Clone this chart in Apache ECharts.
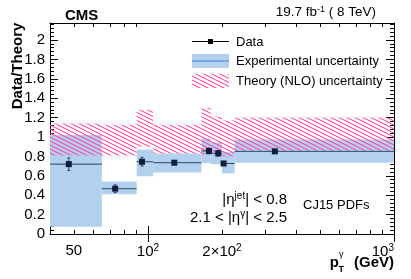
<!DOCTYPE html>
<html><head><meta charset="utf-8">
<script src="https://cdn.jsdelivr.net/npm/echarts@6/dist/echarts.min.js"></script>
<style>html,body{margin:0;padding:0;background:#fff}#c{width:411px;height:279px}</style>
</head><body><div id="c"></div>
<script>
// ---- data ----
const binLo   = [40, 65, 90, 105, 165, 180, 200, 225];
const binHi   = [65, 90, 105, 165, 180, 200, 225, 1000];
const ptX     = [47.7, 73.6, 94.6, 128, 177, 193, 203, 328];
const ratio   = [0.72, 0.467, 0.745, 0.735, 0.856, 0.832, 0.727, 0.852];
const statErr = [0.065, 0.04, 0.045, 0.012, 0.03, 0.03, 0.015, 0.01];
const expLo   = [0.075, 0.41, 0.595, 0.635, 0.73, 0.72, 0.625, 0.735];
const expHi   = [1.02, 0.54, 0.87, 0.83, 0.985, 0.945, 0.845, 0.975];
const thLo    = [0.81, 0.81, 0.90, 0.83, 0.82, 0.83, 0.80, 0.86];
const thHi    = [1.14, 1.125, 1.28, 1.125, 1.30, 1.21, 1.17, 1.20];
const xLabelValues = [50, 100, 200, 1000];
const xMinorTicks = [50, 60, 70, 80, 90, 200, 300, 400, 500, 600, 700, 800, 900];
const xMajorTicks = [100, 1000];

const FONT = '"Liberation Sans", Arial, Helvetica, sans-serif';
const BLUE = '#b3d1ef';
const PINK = '#ff40a0';
const NAVY = '#0b1f3a';
const LINE = '#2c4662';

// hatch pattern tile
const tile = document.createElement('canvas');
tile.width = 8; tile.height = 4;
(function(){
  const g = tile.getContext('2d');
  g.strokeStyle = PINK; g.lineWidth = 1.1;
  for (const off of [-4, 0, 4]) {
    g.beginPath(); g.moveTo(-1, off - 0.5); g.lineTo(9, off + 4.5); g.stroke();
  }
})();
const hatch = {image: tile, repeat: 'repeat'};

const expData = binLo.map((v, i) => [v, binHi[i], expLo[i], expHi[i]]);
const thData  = binLo.map((v, i) => [v, binHi[i], thLo[i], thHi[i]]);
const ptData  = binLo.map((v, i) => [v, binHi[i], ptX[i], ratio[i], statErr[i]]);

function boxRender(fill) {
  return function (params, api) {
    const p1 = api.coord([api.value(0), api.value(3)]);
    const p2 = api.coord([api.value(1), api.value(2)]);
    return {type: 'rect', shape: {x: p1[0], y: p1[1], width: p2[0] - p1[0], height: p2[1] - p1[1]},
            style: {fill: fill}};
  };
}

function pointRender(params, api) {
  const a = api.coord([api.value(0), api.value(3)]);
  const b = api.coord([api.value(1), api.value(3)]);
  const c = api.coord([api.value(2), api.value(3)]);
  const top = api.coord([api.value(2), api.value(3) + api.value(4)]);
  const bot = api.coord([api.value(2), api.value(3) - api.value(4)]);
  const st = {stroke: LINE, lineWidth: 1};
  return {type: 'group', children: [
    {type: 'line', shape: {x1: a[0], y1: a[1], x2: b[0], y2: b[1]}, style: st},
    {type: 'line', shape: {x1: c[0], y1: top[1], x2: c[0], y2: bot[1]}, style: st},
    {type: 'line', shape: {x1: c[0] - 1.5, y1: top[1], x2: c[0] + 1.5, y2: top[1]}, style: st},
    {type: 'line', shape: {x1: c[0] - 1.5, y1: bot[1], x2: c[0] + 1.5, y2: bot[1]}, style: st},
    {type: 'rect', shape: {x: c[0] - 3, y: c[1] - 3, width: 6, height: 6}, style: {fill: NAVY}}
  ]};
}

const sup = {fontSize: 10, fontFamily: FONT, color: '#000', verticalAlign: 'top', padding: [0, 0, 7, 0]};
function xFmt(v) {
  const r = Math.round(v);
  if (r === 50) return '{n|50}';
  if (r === 100) return '{n|10}{s|2}';
  if (r === 200) return '{n|2×10}{s|2}';
  if (r === 1000) return '{n|10}{s|3}';
  return '';
}

const baseX = {type: 'log', min: 40, max: 1000, logBase: 10, splitLine: {show: false},
  axisLine: {show: false}, axisLabel: {show: false}};
const yMax = 2.175;

const option = {
  animation: false,
  backgroundColor: '#fff',
  grid: {left: 50, right: 17, top: 23, bottom: 45, containLabel: false},
  xAxis: [
    Object.assign({}, baseX, {position: 'bottom',
      axisLine: {show: true, onZero: false, lineStyle: {color: '#000', width: 1}},
      axisTick: {show: true, inside: true, length: 4, lineStyle: {color: '#000'}, customValues: xMinorTicks},
      axisLabel: {show: true, margin: 9, customValues: xLabelValues, formatter: xFmt,
        alignMaxLabel: 'right',
        rich: {n: {fontSize: 15, fontFamily: FONT, color: '#000'}, s: sup}}}),
    Object.assign({}, baseX, {position: 'bottom',
      axisTick: {show: true, inside: true, length: 8, lineStyle: {color: '#000'}, customValues: xMajorTicks}}),
    Object.assign({}, baseX, {position: 'top',
      axisLine: {show: true, onZero: false, lineStyle: {color: '#000', width: 1}},
      axisTick: {show: true, inside: true, length: 4, lineStyle: {color: '#000'}, customValues: xMinorTicks}}),
    Object.assign({}, baseX, {position: 'top',
      axisTick: {show: true, inside: true, length: 8, lineStyle: {color: '#000'}, customValues: xMajorTicks}})
  ],
  yAxis: [
    {type: 'value', min: 0, max: yMax, interval: 0.2, position: 'left', splitLine: {show: false},
      axisLine: {show: true, onZero: false, lineStyle: {color: '#000'}},
      axisTick: {show: true, inside: true, length: 8, lineStyle: {color: '#000'}},
      minorTick: {show: true, splitNumber: 5, length: 4, lineStyle: {color: '#000'}},
      axisLabel: {show: true, margin: 5, showMaxLabel: false, fontSize: 15, fontFamily: FONT, color: '#000',
        formatter: v => (Math.round(v * 10) / 10).toString()}},
    {type: 'value', min: 0, max: yMax, interval: 0.2, position: 'right', splitLine: {show: false},
      axisLine: {show: true, onZero: false, lineStyle: {color: '#000'}},
      axisTick: {show: true, inside: true, length: 8, lineStyle: {color: '#000'}},
      minorTick: {show: true, splitNumber: 5, length: 4, lineStyle: {color: '#000'}},
      axisLabel: {show: false}}
  ],
  series: [
    {type: 'custom', name: 'Experimental uncertainty', xAxisIndex: 0, yAxisIndex: 0, clip: true, z: 2,
      encode: {x: [0, 1], y: [2, 3]}, data: expData, renderItem: boxRender(BLUE)},
    {type: 'custom', name: 'Theory (NLO) uncertainty', xAxisIndex: 0, yAxisIndex: 0, clip: true, z: 3,
      encode: {x: [0, 1], y: [2, 3]}, data: thData, renderItem: boxRender(hatch)},
    {type: 'custom', name: 'Data', xAxisIndex: 0, yAxisIndex: 0, clip: true, z: 4,
      encode: {x: [0, 1, 2], y: [3]}, data: ptData, renderItem: pointRender}
  ],
  graphic: [
    {type: 'text', left: 65, top: 8, style: {text: 'CMS', font: 'bold 15px ' + FONT, fill: '#000'}},
    {type: 'text', right: 35, top: 5, style: {text: '19.7 fb{s|-1} ( 8 TeV)', font: '13.5px ' + FONT, fill: '#000',
      rich: {s: {fontSize: 9, fontFamily: FONT, verticalAlign: 'top', padding: [0, 0, 6, 0]}}}},
    {type: 'text', x: 18, y: 66, rotation: Math.PI / 2, style: {text: 'Data/Theory', font: 'bold 15px ' + FONT,
      fill: '#000', align: 'center', verticalAlign: 'middle'}},
    // x-axis title
    {type: 'text', x: 339, y: 263, style: {text: 'p', font: 'bold 15px ' + FONT, fill: '#000', align: 'right', verticalAlign: 'middle'}},
    {type: 'text', x: 339, y: 255, style: {text: 'γ', font: '9px ' + FONT, fill: '#000', align: 'left', verticalAlign: 'middle'}},
    {type: 'text', x: 338.5, y: 270, style: {text: 'T', font: 'bold 9px ' + FONT, fill: '#000', align: 'left', verticalAlign: 'middle'}},
    {type: 'text', x: 394, y: 263, style: {text: '(GeV)', font: 'bold 15px ' + FONT, fill: '#000', align: 'right', verticalAlign: 'middle'}},
    // annotations
    {type: 'text', x: 287, y: 200, style: {text: '|η{s|jet}| < 0.8', font: '15px ' + FONT, fill: '#000', align: 'right', verticalAlign: 'middle',
      rich: {s: {fontSize: 10, fontFamily: FONT, verticalAlign: 'top', padding: [0, 0, 7, 0]}}}},
    {type: 'text', x: 287, y: 218, style: {text: '2.1 < |η{s|γ}| < 2.5', font: '15px ' + FONT, fill: '#000', align: 'right', verticalAlign: 'middle',
      rich: {s: {fontSize: 10, fontFamily: FONT, verticalAlign: 'top', padding: [0, 0, 7, 0]}}}},
    {type: 'text', x: 303, y: 205, style: {text: 'CJ15 PDFs', font: '13px ' + FONT, fill: '#000', align: 'left', verticalAlign: 'middle'}},
    // legend
    {type: 'line', shape: {x1: 192, y1: 41.5, x2: 229, y2: 41.5}, style: {stroke: '#000', lineWidth: 1}},
    {type: 'rect', shape: {x: 208, y: 39, width: 5, height: 5}, style: {fill: '#000'}},
    {type: 'text', x: 236, y: 42, style: {text: 'Data', font: '13px ' + FONT, fill: '#000', verticalAlign: 'middle'}},
    {type: 'rect', shape: {x: 192, y: 54, width: 37, height: 14}, style: {fill: BLUE}},
    {type: 'line', shape: {x1: 192, y1: 61, x2: 229, y2: 61}, style: {stroke: '#3f7fcc', lineWidth: 1}},
    {type: 'text', x: 236, y: 61, style: {text: 'Experimental uncertainty', font: '13px ' + FONT, fill: '#000', verticalAlign: 'middle'}},
    {type: 'rect', shape: {x: 192, y: 74, width: 37, height: 14}, style: {fill: hatch}},
    {type: 'text', x: 236, y: 81, style: {text: 'Theory (NLO) uncertainty', font: '13px ' + FONT, fill: '#000', verticalAlign: 'middle'}}
  ]
};
const chart = echarts.init(document.getElementById('c'), null, {renderer: 'canvas'});
chart.setOption(option);
</script></body></html>
